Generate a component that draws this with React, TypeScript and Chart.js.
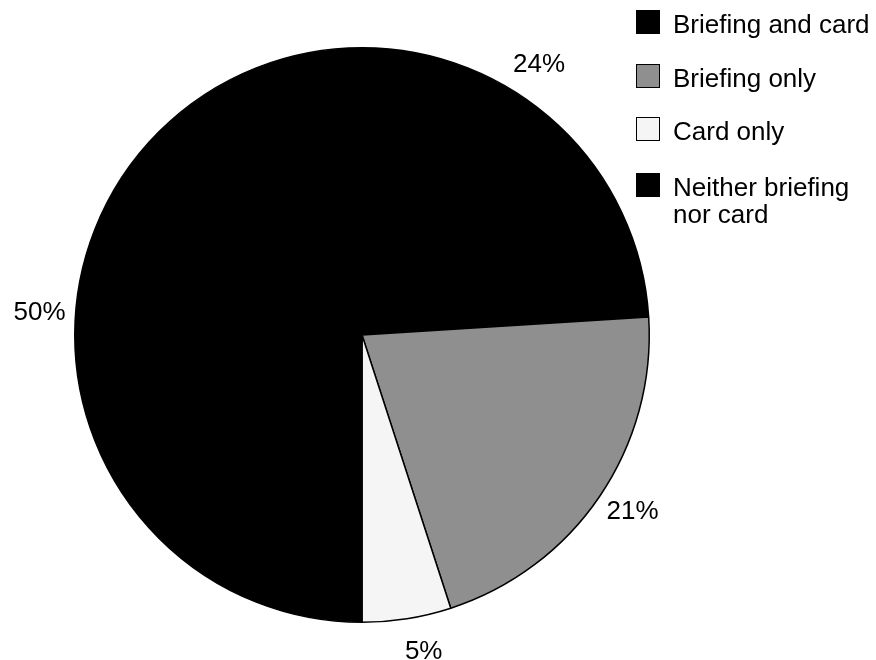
import React, { useEffect, useRef } from "react";
import { Chart, registerables } from "chart.js";

Chart.register(...registerables);

const categories = ["Briefing and card", "Briefing only", "Card only", "Neither briefing nor card"];
const shares = [24, 21, 5, 50];
const percentLabels = ["24%", "21%", "5%", "50%"];
const sliceColors = ["#000000", "#8f8f8f", "#f5f5f5", "#000000"];

const FONT = "'Liberation Sans', Arial, Helvetica, sans-serif";
// small angular nudges (degrees) for the percentage labels, as placed in the original
const labelNudgeDeg = [-10, -1, -2, 4];

const percentLabelPlugin = {
  id: "percentLabels",
  afterDatasetsDraw(chart: any) {
    const ctx = chart.ctx as CanvasRenderingContext2D;
    const meta = chart.getDatasetMeta(0);
    ctx.save();
    ctx.font = `26px ${FONT}`;
    ctx.fillStyle = "#000";
    ctx.textAlign = "center";
    ctx.textBaseline = "middle";
    meta.data.forEach((arc: any, i: number) => {
      const p = arc.getProps(["x", "y", "startAngle", "endAngle", "outerRadius"], true);
      const mid = (p.startAngle + p.endAngle) / 2 + (labelNudgeDeg[i] * Math.PI) / 180;
      const r = p.outerRadius + 36;
      ctx.fillText(percentLabels[i], p.x + Math.cos(mid) * r, p.y + Math.sin(mid) * r);
    });
    ctx.restore();
  },
};

export default function App() {
  const canvasRef = useRef<HTMLCanvasElement | null>(null);

  useEffect(() => {
    if (!canvasRef.current) return;
    const chart = new Chart(canvasRef.current, {
      type: "pie",
      data: {
        labels: categories,
        datasets: [
          {
            data: shares,
            backgroundColor: sliceColors,
            borderColor: "#000",
            borderWidth: 1.5,
          },
        ],
      },
      options: {
        responsive: false,
        animation: false,
        layout: { padding: { left: 74, right: 226, top: 47, bottom: 37 } },
        plugins: {
          legend: { display: false },
          tooltip: { enabled: false },
        },
      },
      plugins: [percentLabelPlugin],
    });
    return () => chart.destroy();
  }, []);

  const tops = [11, 65, 118, 174];

  return (
    <div style={{ position: "fixed", left: 0, top: 0, width: 876, height: 660, background: "#fff" }}>
      <canvas ref={canvasRef} width={876} height={660} style={{ position: "absolute", left: 0, top: 0 }} />
      {categories.map((c, i) => (
        <div
          key={c}
          style={{
            position: "absolute",
            left: 636,
            top: tops[i],
            display: "flex",
            alignItems: "flex-start",
            fontFamily: FONT,
            fontSize: 26,
            lineHeight: "27px",
            color: "#000",
          }}
        >
          <div
            style={{
              width: 22,
              height: 22,
              marginTop: -1,
              background: sliceColors[i],
              border: "1px solid #000",
              flex: "0 0 auto",
            }}
          />
          <div style={{ marginLeft: 13, width: 200 }}>{c}</div>
        </div>
      ))}
    </div>
  );
}
